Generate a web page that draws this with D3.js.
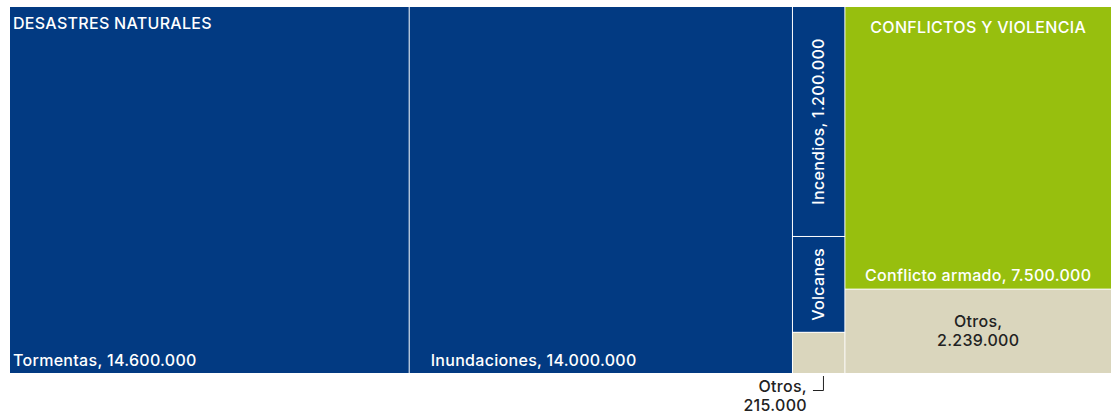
<!DOCTYPE html>
<html><head><meta charset="utf-8">
<script src="https://cdn.jsdelivr.net/npm/d3@7"></script>
<style>
html,body{margin:0;padding:0;background:#fff;}
svg{display:block;font-family:Inter,"Noto Sans",sans-serif;font-weight:500;letter-spacing:0.3px;}
</style></head>
<body><svg id="c" width="1111" height="417"></svg>
<script>
// Data (displaced persons)
const groups = ["DESASTRES NATURALES", "CONFLICTOS Y VIOLENCIA"];
const naturalNames = ["Tormentas", "Inundaciones"];
const naturalValues = [14600000, 14000000];
const smallNames = ["Incendios", "Volcanes", "Otros"];
const smallValues = [1200000, 500000, 215000];
const smallLabels = ["Incendios, 1.200.000", "Volcanes", "Otros, 215.000"];
const conflictNames = ["Conflicto armado", "Otros"];
const conflictValues = [7500000, 2239000];
const fmt = v => d3.format(",")(v).replace(/,/g, ".");

const tree = {name: "root", children: [
  {name: groups[0], kind: "natural", children: [
    ...naturalNames.map((n, i) => ({name: n, value: naturalValues[i], kind: "natural"})),
    {name: "small", kind: "column", children: smallNames.map((n, i) => ({name: n, value: smallValues[i], kind: n === "Otros" ? "other" : "natural", label: smallLabels[i]}))}
  ]},
  {name: groups[1], kind: "conflict", children: conflictNames.map((n, i) => ({name: n, value: conflictValues[i], kind: n === "Otros" ? "other" : "conflict"}))}
]};

const color = {natural: "#023a82", conflict: "#97bf0e", other: "#dad6bd"};

const root = d3.hierarchy(tree).sum(d => d.value || 0);
const tile = (node, x0, y0, x1, y1) => {
  if (node.depth === 0 || node.data.kind === "natural") d3.treemapDice(node, x0, y0, x1, y1);
  else d3.treemapSlice(node, x0, y0, x1, y1);
};
d3.treemap().tile(tile).size([1101, 366]).paddingInner(1).round(false)(root);

const svg = d3.select("#c");
const g = svg.append("g").attr("transform", "translate(10,7)");
const leaves = root.leaves();
g.selectAll("rect").data(leaves).join("rect")
  .attr("x", d => d.x0).attr("y", d => d.y0)
  .attr("width", d => d.x1 - d.x0).attr("height", d => d.y1 - d.y0)
  .attr("fill", d => color[d.data.kind]);

const white = "#ffffff", dark = "#222222";
const fs = 16;
const byName = (n, parentName) => leaves.find(d => d.data.name === n && d.parent.data.name === parentName);

// Group titles
const nat = root.children[0], con = root.children[1];
g.append("text").attr("x", nat.x0 + 3).attr("y", 22).attr("fill", white).attr("font-size", fs).text(groups[0]);
g.append("text").attr("x", (con.x0 + con.x1) / 2).attr("y", 26).attr("fill", white).attr("font-size", fs).attr("text-anchor", "middle").text(groups[1]);

// Tormentas / Inundaciones
const tor = byName("Tormentas", groups[0]);
g.append("text").attr("x", tor.x0 + 3).attr("y", tor.y1 - 7).attr("fill", white).attr("font-size", fs).text(`Tormentas, ${fmt(naturalValues[0])}`);
const inu = byName("Inundaciones", groups[0]);
g.append("text").attr("x", inu.x0 + 21).attr("y", inu.y1 - 7).attr("fill", white).attr("font-size", fs).text(`Inundaciones, ${fmt(naturalValues[1])}`);

// Small column (rotated)
["Incendios", "Volcanes"].forEach((n, i) => {
  const d = byName(n, "small");
  const cx = (d.x0 + d.x1) / 2 + 5, cy = (d.y0 + d.y1) / 2;
  g.append("text").attr("transform", `translate(${cx},${cy}) rotate(-90)`)
    .attr("text-anchor", "middle").attr("fill", white).attr("font-size", fs).text(smallLabels[i]);
});
const oth = byName("Otros", "small");
const ox = oth.x0 + 14;
g.append("text").attr("x", ox).attr("y", oth.y1 + 19).attr("text-anchor", "end").attr("fill", dark).attr("font-size", fs).text("Otros,");
g.append("text").attr("x", ox).attr("y", oth.y1 + 38).attr("text-anchor", "end").attr("fill", dark).attr("font-size", fs).text(fmt(smallValues[2]));
g.append("path").attr("d", `M${ox + 6},${oth.y1 + 17.5}H${ox + 16.5}V${oth.y1 + 3}`).attr("fill", "none").attr("stroke", dark).attr("stroke-width", 1);

// Conflict leaves
const ca = byName("Conflicto armado", groups[1]);
g.append("text").attr("x", (ca.x0 + ca.x1) / 2).attr("y", ca.y1 - 8).attr("text-anchor", "middle").attr("fill", white).attr("font-size", fs).text(`Conflicto armado, ${fmt(conflictValues[0])}`);
const co = byName("Otros", groups[1]);
g.append("text").attr("x", (co.x0 + co.x1) / 2).attr("y", co.y0 + 37).attr("text-anchor", "middle").attr("fill", dark).attr("font-size", fs).text("Otros,");
g.append("text").attr("x", (co.x0 + co.x1) / 2).attr("y", co.y0 + 56).attr("text-anchor", "middle").attr("fill", dark).attr("font-size", fs).text(fmt(conflictValues[1]));
</script></body></html>
